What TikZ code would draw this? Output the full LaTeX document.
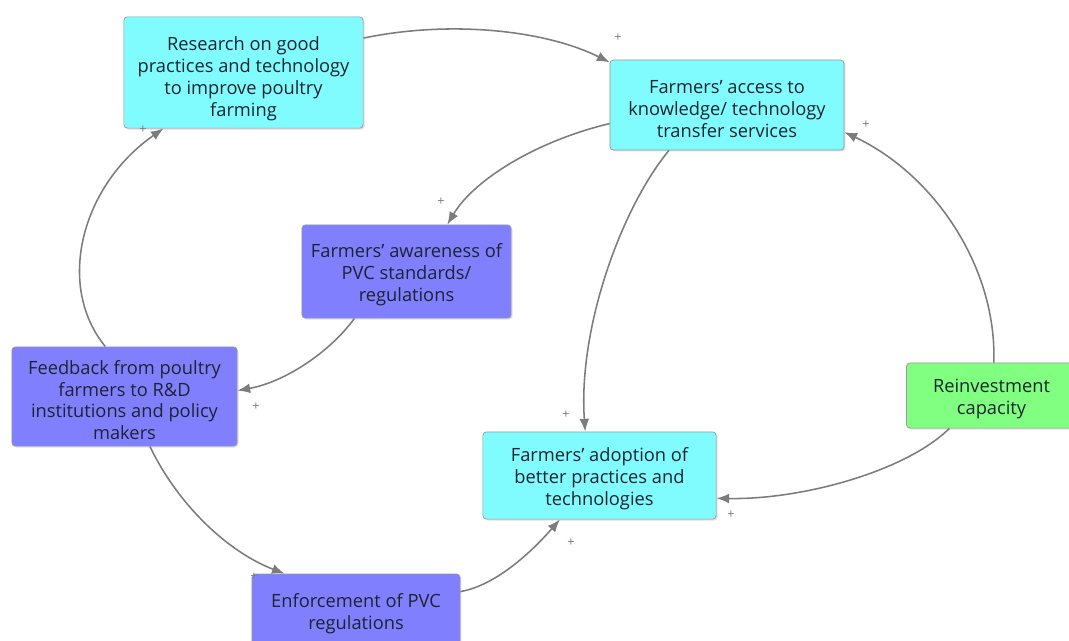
\documentclass[tikz,border=0pt]{standalone}
\usepackage{fontspec}
\setmainfont{Open Sans}
\usetikzlibrary{arrows.meta,shadows}
\definecolor{loopCyan}{HTML}{80FCFF}
\definecolor{loopViolet}{HTML}{8080FF}
\definecolor{loopGreen}{HTML}{80FF80}
\definecolor{loopLine}{HTML}{7C7C7C}
\definecolor{loopText}{HTML}{1C2430}

\begin{document}
\begin{tikzpicture}[x=0.025cm,y=-0.025cm,
    font=\fontsize{13}{15.6}\selectfont,
    var/.style={draw=black!40,line width=0.5pt,rounded corners=2.5pt,
                align=center,text=loopText,inner sep=0pt,
                drop shadow={shadow xshift=1pt,shadow yshift=-1pt,opacity=0.25}},
    two/.style={text height=30.6pt},
    three/.style={text height=46.2pt},
    four/.style={text height=61.8pt},
    link/.style={draw=loopLine,line width=1.1pt,
                 -{Latex[length=9pt,width=7pt]}},
    sign/.style={text=loopLine,font=\fontsize{9}{9}\selectfont,inner sep=0pt}]
  \clip (0,0) rectangle (1069,640);
  \fill[white] (0,0) rectangle (1069,640);

  % stocks of the loop
  \node[var,four,text height=65pt,fill=loopCyan,minimum width=5.98cm,minimum height=2.78cm]
    (research) at (243.5,72.5) {Research on good\\practices and technology\\to improve poultry\\farming};
  \node[var,three,fill=loopCyan,minimum width=5.85cm,minimum height=2.25cm]
    (access) at (727,105) {Farmers' access to\\knowledge/ technology\\transfer services};
  \node[var,three,fill=loopViolet,minimum width=5.23cm,minimum height=2.33cm]
    (aware) at (406.5,271.5) {Farmers' awareness of\\PVC standards/\\regulations};
  \node[var,four,fill=loopViolet,minimum width=5.63cm,minimum height=2.48cm]
    (feedback) at (124.5,396.5) {Feedback from poultry\\farmers to R\&D\\institutions and policy\\makers};
  \node[var,three,fill=loopCyan,minimum width=5.83cm,minimum height=2.18cm]
    (adopt) at (599.5,475.5) {Farmers' adoption of\\better practices and\\technologies};
  \node[var,two,fill=loopGreen,minimum width=4.25cm,minimum height=1.63cm]
    (reinvest) at (991.5,395.5) {Reinvestment\\capacity};
  \node[var,two,fill=loopViolet,minimum width=5.2cm,minimum height=1.8cm]
    (enforce) at (356,610) {Enforcement of PVC\\regulations};

  % causal links
  \draw[link] (research.16) .. controls (450,20) and (545,30) .. (access.160);
  \draw[link] (access.189) .. controls (540,140) and (475,178) .. (aware.49);
  \draw[link] (access.218) .. controls (620,210) and (578,330) .. (adopt.108);
  \draw[link] (aware.222) .. controls (330,352) and (285,382) .. (feedback.3);
  \draw[link] (feedback.111) .. controls (55,285) and (82,185) .. (research.215);
  \draw[link] (feedback.297) .. controls (178,505) and (228,552) .. (enforce.153);
  \draw[link] (enforce.10) .. controls (498,585) and (535,548) .. (adopt.228);
  \draw[link] (reinvest.86) .. controls (997,268) and (935,175) .. (access.347);
  \draw[link] (reinvest.218) .. controls (905,472) and (800,500) .. (adopt.349);

  % polarity marks
  \node[sign] (s1) at (618,38)  {+};
  \node[sign] (s2) at (441,202) {+};
  \node[sign] (s3) at (566,415) {+};
  \node[sign] (s4) at (256,407) {+};
  \node[sign] (s5) at (143,130) {+};
  \node[sign] (s6) at (254,577) {+};
  \node[sign] (s7) at (571,543) {+};
  \node[sign] (s8) at (866,125) {+};
  \node[sign] (s9) at (731,515) {+};
\end{tikzpicture}
\end{document}
